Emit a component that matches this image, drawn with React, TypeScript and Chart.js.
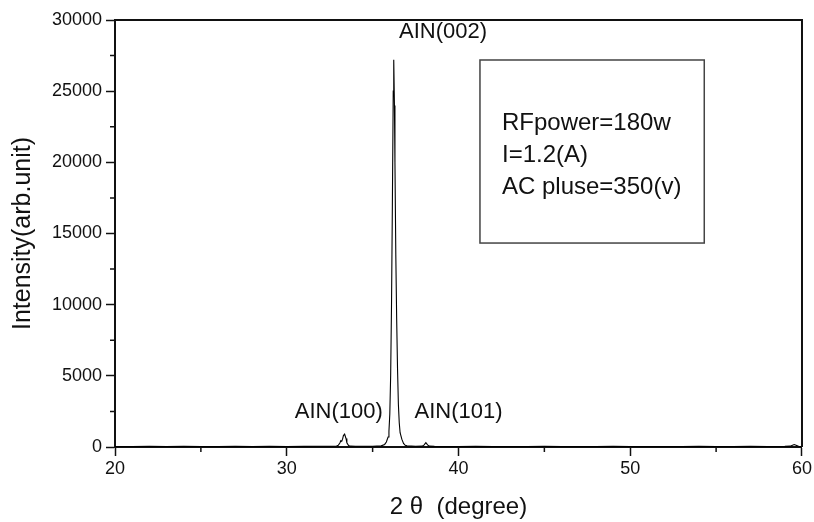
import React, { useEffect, useRef } from "react";
import { Chart, registerables } from "chart.js";
Chart.register(...registerables);

const twoTheta = [
  20, 21, 22, 23, 24, 25, 26, 27, 28, 29, 30, 31, 32, 32.5, 32.9, 33.0, 33.1, 33.15, 33.2, 33.25, 33.3, 33.37,
  33.45, 33.5, 33.6, 33.7, 34, 34.5, 35, 35.5, 35.7, 35.8, 35.9, 35.95, 36.0, 36.05, 36.1, 36.15, 36.2, 36.23,
  36.27, 36.3, 36.35, 36.4, 36.45, 36.5, 36.55, 36.6, 36.7, 36.8, 36.9, 37.0, 37.5, 37.9, 38.0, 38.1, 38.2, 38.3,
  38.6, 39, 40, 41, 42, 43, 44, 45, 46, 47, 48, 49, 50, 51, 52, 53, 54, 55, 56, 57, 58, 59, 59.3, 59.45, 59.55,
  59.65, 59.8, 60,
];
const intensity = [
  40, 35, 45, 38, 42, 36, 40, 44, 38, 42, 40, 45, 50, 55, 70, 120, 300, 450, 400, 550, 800, 900,
  600, 300, 110, 60, 50, 50, 55, 80, 180, 350, 700, 1100, 2300, 5000, 10000, 17000, 25000, 27200,
  24000, 20000, 13500, 9000, 5500, 3000, 1700, 1000, 550, 250, 120, 80, 55, 60, 150, 300, 150, 60,
  45, 40, 38, 42, 36, 40, 38, 42, 36, 40, 38, 42, 40, 36, 40, 38, 42, 40, 38, 42, 40, 45, 60, 130, 170,
  130, 50, 30,
];

const yMajorTicks = [0, 5000, 10000, 15000, 20000, 25000, 30000];
const yMinorTicks = [2500, 7500, 12500, 17500, 22500, 27500];
const xMajorTicks = [20, 30, 40, 50, 60];
const xMinorTicks = [25, 35, 45, 55];

const peakLabels = ["AIN(002)", "AIN(100)", "AIN(101)"];
const peakLabelX = [39.1, 33.03, 40.0];
const peakLabelY = [29150, 2480, 2480];

const noteLines = ["RFpower=180w", "I=1.2(A)", "AC pluse=350(v)"];
const noteBoxX = [41.25, 54.31];
const noteBoxY = [27190, 14330];

const FONT = "'Liberation Sans', Arial, sans-serif";

export default function App() {
  const ref = useRef<HTMLCanvasElement | null>(null);
  useEffect(() => {
    document.body.style.margin = "0";
    const canvas = ref.current!;
    const overlay = {
      id: "overlay",
      afterDraw(chart: any) {
        const ctx = chart.ctx;
        const xs = chart.scales.x;
        const ys = chart.scales.y;
        const a = chart.chartArea;
        ctx.save();
        ctx.strokeStyle = "#111";
        ctx.lineWidth = 2;
        ctx.beginPath();
        ctx.moveTo(a.left, a.top);
        ctx.lineTo(a.right, a.top);
        ctx.lineTo(a.right, a.bottom);
        ctx.stroke();
        ctx.lineWidth = 1.5;
        ctx.beginPath();
        yMinorTicks.forEach((v) => {
          const p = ys.getPixelForValue(v);
          ctx.moveTo(a.left, p);
          ctx.lineTo(a.left - 5, p);
        });
        xMinorTicks.forEach((v) => {
          const p = xs.getPixelForValue(v);
          ctx.moveTo(p, a.bottom);
          ctx.lineTo(p, a.bottom + 5);
        });
        ctx.stroke();
        ctx.fillStyle = "#111";
        ctx.font = `22px ${FONT}`;
        ctx.textAlign = "center";
        ctx.textBaseline = "middle";
        peakLabels.forEach((t, i) => {
          ctx.fillText(t, xs.getPixelForValue(peakLabelX[i]), ys.getPixelForValue(peakLabelY[i]));
        });
        const x0 = xs.getPixelForValue(noteBoxX[0]);
        const x1 = xs.getPixelForValue(noteBoxX[1]);
        const y0 = ys.getPixelForValue(noteBoxY[0]);
        const y1 = ys.getPixelForValue(noteBoxY[1]);
        ctx.strokeStyle = "#444";
        ctx.lineWidth = 1.5;
        ctx.strokeRect(x0, y0, x1 - x0, y1 - y0);
        ctx.textAlign = "left";
        ctx.font = `24px ${FONT}`;
        noteLines.forEach((t, i) => {
          ctx.fillText(t, x0 + 22, y0 + 63 + i * 32);
        });
        ctx.restore();
      },
    };
    const chart = new Chart(canvas, {
      type: "scatter",
      data: {
        datasets: [
          {
            data: twoTheta.map((x, i) => ({ x, y: intensity[i] })),
            showLine: true,
            borderColor: "#000",
            borderWidth: 1.1,
            pointRadius: 0,
            tension: 0,
          },
        ],
      },
      options: {
        animation: false,
        responsive: false,
        layout: { padding: { top: 20, right: 10, left: 0, bottom: 0 } },
        plugins: { legend: { display: false }, tooltip: { enabled: false } },
        scales: {
          x: {
            type: "linear",
            min: 20,
            max: 60,
            afterBuildTicks: (s: any) => {
              s.ticks = xMajorTicks.map((v) => ({ value: v }));
            },
            afterFit: (s: any) => {
              s.height = 75;
            },
            ticks: {
              color: "#111",
              font: { family: FONT, size: 18 },
              padding: 2,
              maxRotation: 0,
              callback: (v: any) => String(v),
            },
            grid: { drawOnChartArea: false, tickLength: 9, tickColor: "#111", tickWidth: 1.5 },
            border: { color: "#111", width: 2 },
            title: {
              display: true,
              text: "2 θ  (degree)",
              color: "#111",
              font: { family: FONT, size: 24 },
              padding: { top: 13, bottom: 0 },
            },
          },
          y: {
            type: "linear",
            min: 0,
            max: 30000,
            afterBuildTicks: (s: any) => {
              s.ticks = yMajorTicks.map((v) => ({ value: v }));
            },
            afterFit: (s: any) => {
              s.width = 115;
            },
            ticks: {
              color: "#111",
              font: { family: FONT, size: 18 },
              padding: 4,
              callback: (v: any) => String(v),
            },
            grid: { drawOnChartArea: false, tickLength: 9, tickColor: "#111", tickWidth: 1.5 },
            border: { color: "#111", width: 2 },
            title: {
              display: true,
              text: "Intensity(arb.unit)",
              color: "#111",
              font: { family: FONT, size: 25 },
              padding: { top: 8, bottom: 0 },
            },
          },
        },
      },
      plugins: [overlay],
    });
    return () => chart.destroy();
  }, []);
  return (
    <div style={{ width: 814, height: 522 }}>
      <canvas ref={ref} width={814} height={522} style={{ width: 814, height: 522, display: "block" }} />
    </div>
  );
}
